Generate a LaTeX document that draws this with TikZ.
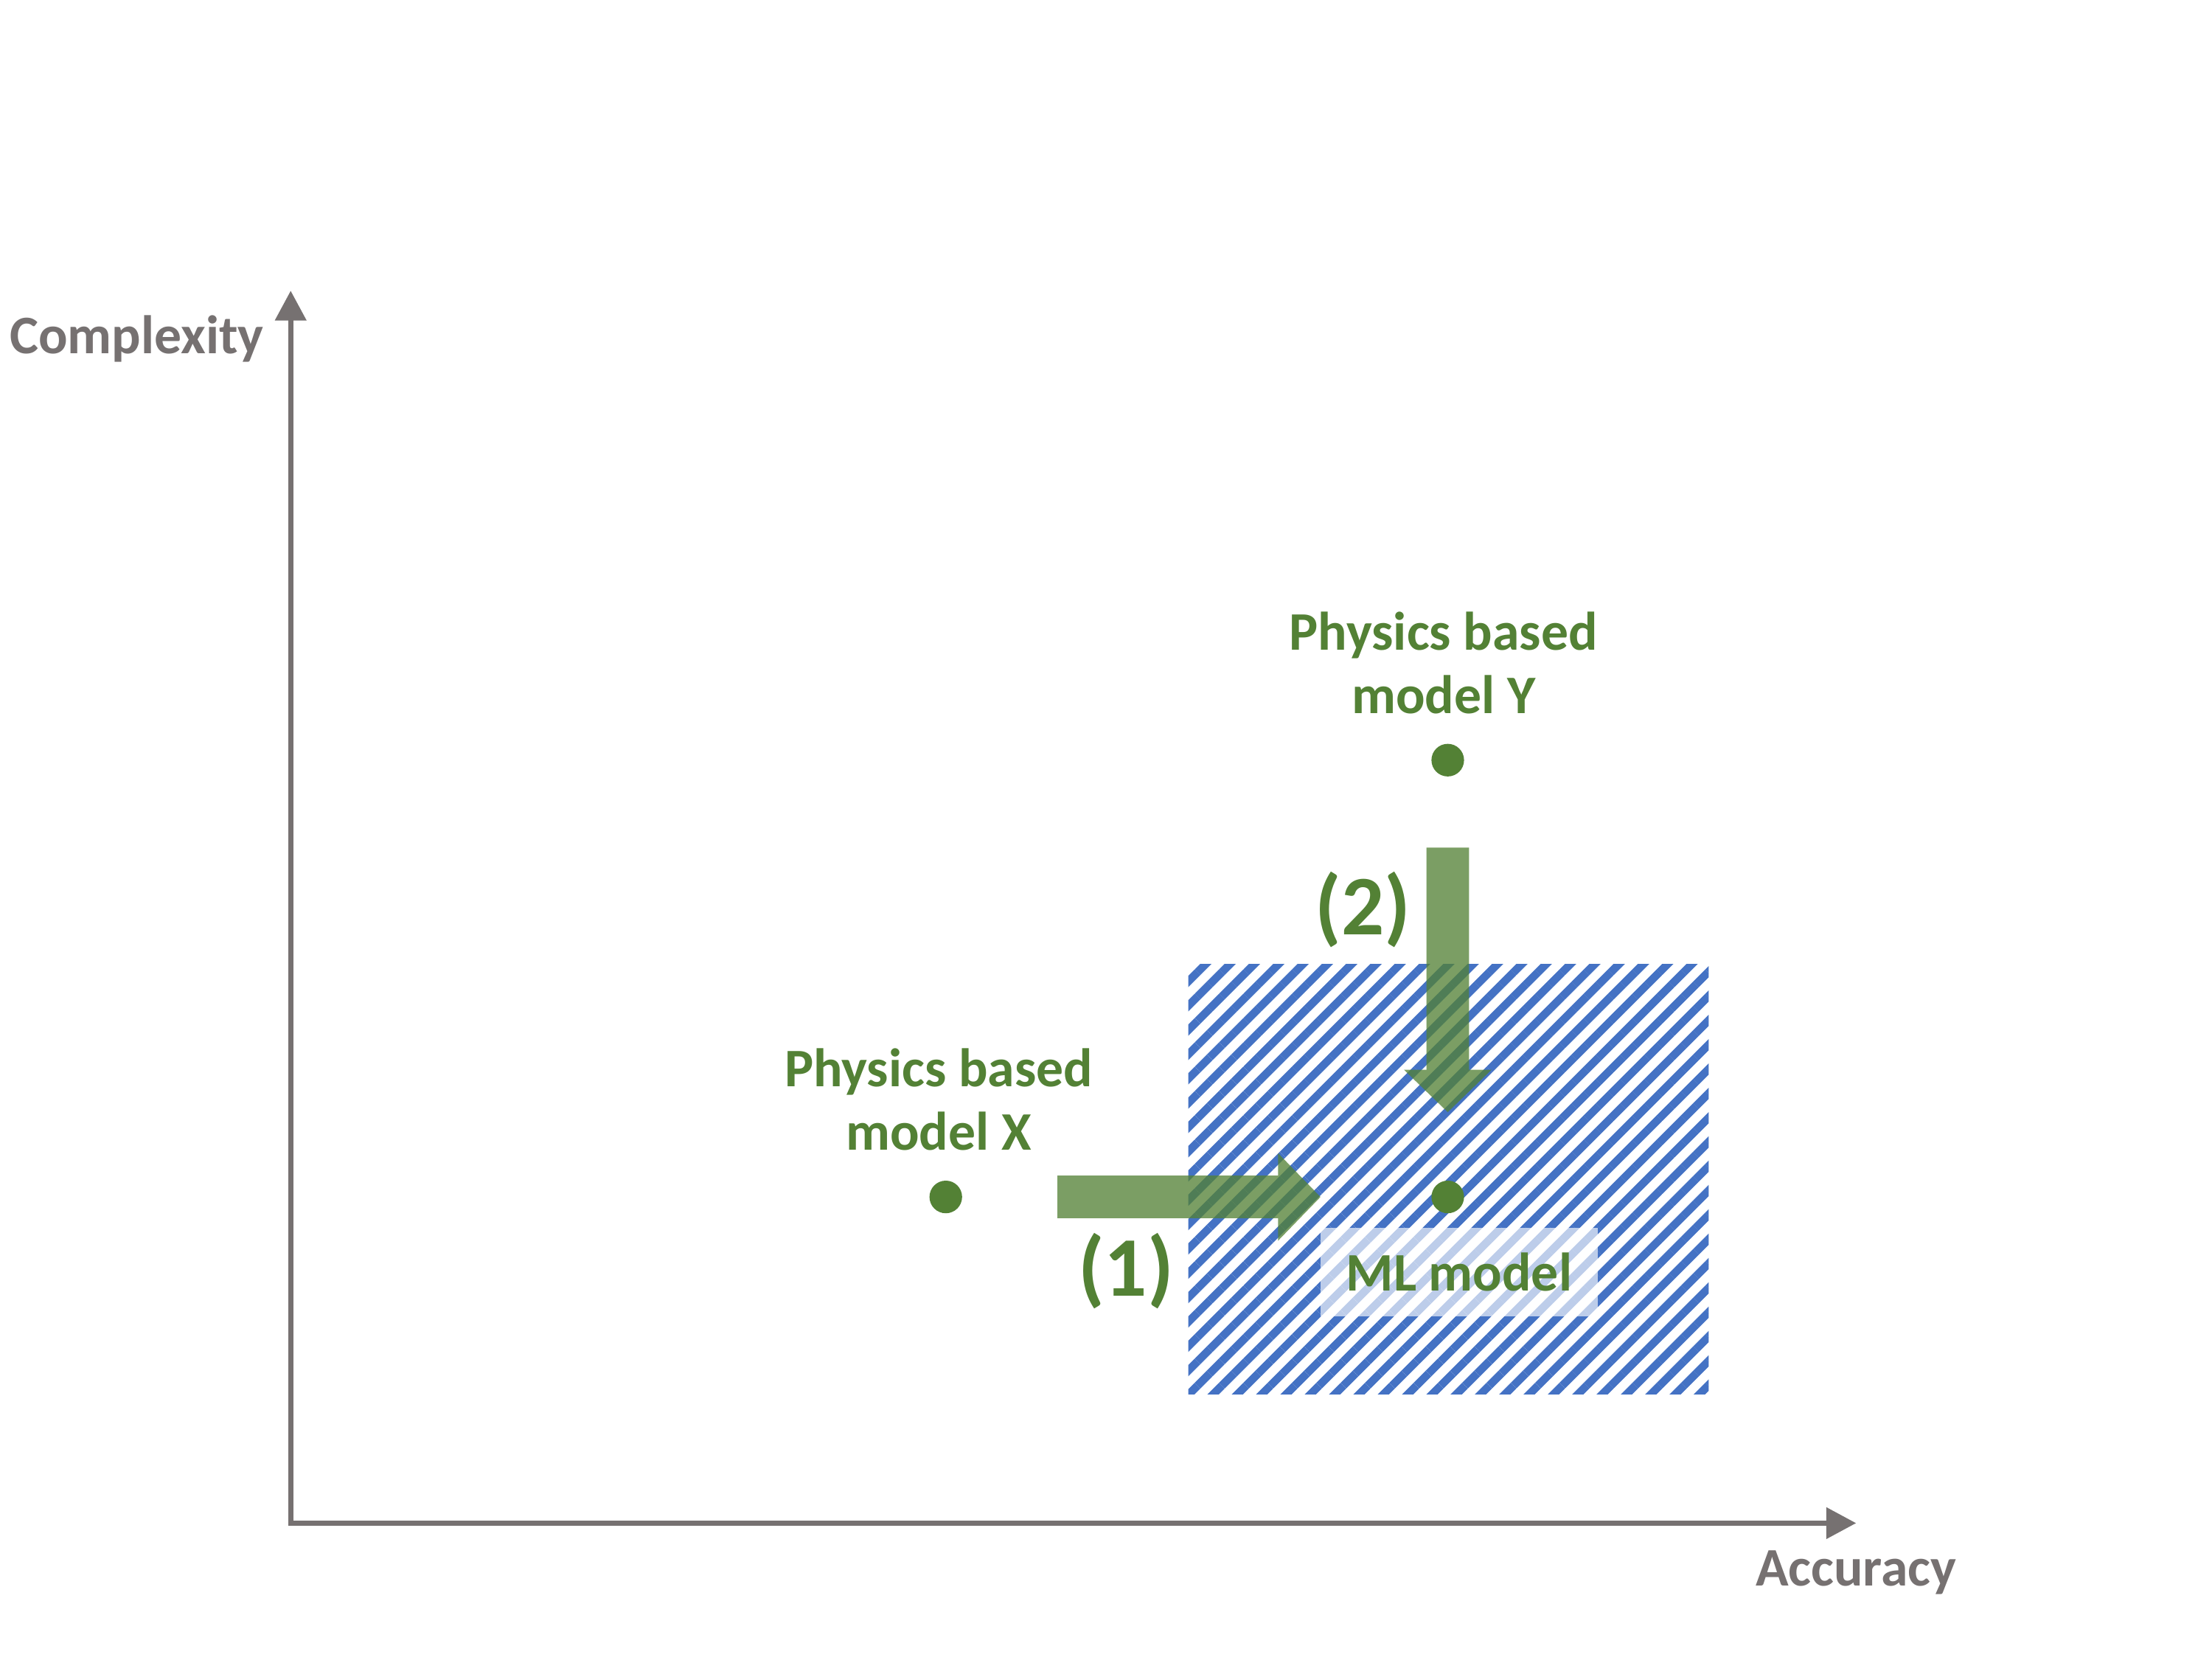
\documentclass[tikz,border=0pt]{standalone}
\usepackage{fontspec}
\setmainfont{Carlito}
\usepackage{tikz}
\usetikzlibrary{arrows.meta,patterns.meta}
\definecolor{axisgray}{HTML}{767171}
\definecolor{modelgreen}{HTML}{538135}
\definecolor{hatchblue}{HTML}{4472C4}

\begin{document}
\begin{tikzpicture}[
    axis/.style={draw=axisgray, line width=1pt, {Triangle[length=0.21cm,width=0.215cm]}-{Triangle[length=0.21cm,width=0.215cm]}},
    axislabel/.style={text=axisgray, font=\fontsize{10.9}{12.7}\selectfont\bfseries, anchor=base, inner sep=0pt},
    modellabel/.style={text=modelgreen, font=\fontsize{10.9}{12.7}\selectfont\bfseries, align=center, anchor=base, inner sep=0pt},
    steplabel/.style={text=modelgreen, font=\fontsize{17}{20}\selectfont\bfseries, anchor=base, inner sep=0pt},
    modeldot/.style={circle, fill=modelgreen, inner sep=0pt, minimum size=0.23cm},
    bigarrow/.style={draw=modelgreen, line width=0.3cm, -{Triangle[length=0.3cm,width=0.6cm]}}
]
\useasboundingbox (0,0) rectangle (15.6,-11.7);

\coordinate (origin) at (2.05,-10.74);
\coordinate (ytip) at (2.05,-2.05);
\coordinate (xtip) at (13.09,-10.74);
\draw [axis] (ytip) -- (origin) -- (xtip);
\node [axislabel] (complexity) at (0.965,-2.496) {Complexity};
\node [axislabel] (accuracy) at (13.09,-11.18) {Accuracy};

\path [pattern={Lines[angle=45,distance=3.45pt,line width=1.6pt]}, pattern color=hatchblue] (8.38,-6.80) rectangle (12.05,-9.83);
\node [fill=white, fill opacity=0.65, text opacity=1, text=modelgreen, font=\fontsize{10.9}{12.7}\selectfont\bfseries,
       minimum width=1.955cm, minimum height=0.624cm, inner sep=0pt] (mlbox) at (10.29,-8.97) {ML model};

\node [modeldot] (dotx) at (6.67,-8.44) {};
\node [modeldot] (doty) at (10.21,-5.36) {};
\node [modeldot] (dotml) at (10.21,-8.44) {};

\node [modellabel] (labelx) at (6.62,-8.11) {Physics based\\model X};
\node [modellabel] (labely) at (10.18,-5.03) {Physics based\\model Y};

\begin{scope}[transparency group, opacity=0.77]
\draw [bigarrow, shorten <=0.665cm, shorten >=0.775cm] (dotx) -- (dotml);
\end{scope}
\begin{scope}[transparency group, opacity=0.77]
\draw [bigarrow, shorten <=0.495cm, shorten >=0.475cm] (doty) -- (dotml);
\end{scope}
\node [steplabel] (step1) at (7.94,-9.14) {(1)};
\node [steplabel] (step2) at (9.61,-6.59) {(2)};
\end{tikzpicture}
\end{document}
